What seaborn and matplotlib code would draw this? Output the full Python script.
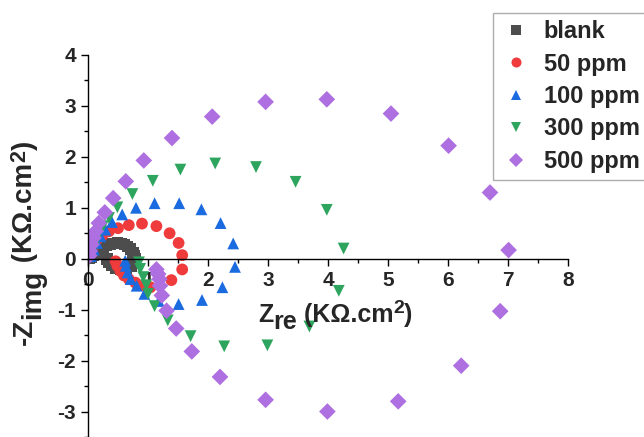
import pandas as pd
import matplotlib
matplotlib.use('Agg')
import matplotlib.pyplot as plt
import seaborn as sns

# Nyquist data, Zre / -Zimg in KOhm.cm2
blank_x = [0.02, 0.05, 0.08, 0.11, 0.14, 0.18, 0.22, 0.26, 0.31, 0.37, 0.43, 0.49, 0.55,
           0.61, 0.66, 0.71, 0.75, 0.77, 0.78,
           0.77, 0.72, 0.64, 0.55, 0.47, 0.40, 0.35, 0.32]
blank_y = [0.02, 0.04, 0.07, 0.10, 0.12, 0.15, 0.19, 0.23, 0.26, 0.29, 0.30, 0.31, 0.30,
           0.28, 0.24, 0.19, 0.12, 0.05, 0.00,
           -0.07, -0.14, -0.19, -0.20, -0.18, -0.13, -0.07, -0.01]

ppm50_x = [0.02, 0.05, 0.10, 0.15, 0.24, 0.35, 0.50, 0.68, 0.90, 1.14, 1.36, 1.51, 1.57,
           1.57, 1.39, 1.04, 0.93, 0.79, 0.68, 0.60, 0.54, 0.49, 0.46]
ppm50_y = [0.05, 0.15, 0.27, 0.38, 0.46, 0.54, 0.60, 0.66, 0.69, 0.64, 0.50, 0.31, 0.07,
           -0.21, -0.42, -0.56, -0.53, -0.47, -0.40, -0.33, -0.24, -0.14, -0.05]

ppm100_x = [0.05, 0.10, 0.15, 0.21, 0.29, 0.40, 0.57, 0.80, 1.11, 1.52, 1.89, 2.21, 2.42,
            2.45, 2.24, 1.90, 1.51, 1.18, 0.94, 0.81, 0.71, 0.66, 0.63, 0.62]
ppm100_y = [0.05, 0.18, 0.31, 0.44, 0.57, 0.72, 0.87, 1.00, 1.09, 1.09, 0.97, 0.70, 0.30,
            -0.16, -0.56, -0.81, -0.89, -0.83, -0.69, -0.53, -0.40, -0.27, -0.14, -0.04]

ppm300_x = [0.02, 0.05, 0.09, 0.13, 0.18, 0.25, 0.35, 0.49, 0.74, 1.08, 1.54, 2.12, 2.80,
            3.46, 3.98, 4.26,
            4.18, 3.69, 2.99, 2.27, 1.71, 1.33, 1.11, 1.00, 0.97, 0.92, 0.87, 0.85]
ppm300_y = [0.03, 0.10, 0.21, 0.34, 0.50, 0.64, 0.80, 1.01, 1.27, 1.53, 1.75, 1.87, 1.80,
            1.51, 0.96, 0.20,
            -0.63, -1.33, -1.70, -1.72, -1.52, -1.21, -0.93, -0.69, -0.52, -0.36, -0.20, -0.07]

ppm500_x = [0.02, 0.03, 0.06, 0.09, 0.13, 0.18, 0.28, 0.42, 0.63, 0.93, 1.40, 2.07, 2.96,
            3.98, 5.05, 6.01, 6.70, 7.01,
            6.87, 6.22, 5.17, 3.99, 2.96, 2.20, 1.73, 1.47, 1.31, 1.23, 1.20, 1.19, 1.17, 1.14]
ppm500_y = [0.06, 0.15, 0.28, 0.41, 0.54, 0.70, 0.91, 1.19, 1.52, 1.93, 2.37, 2.79, 3.08,
            3.13, 2.85, 2.22, 1.30, 0.17,
            -1.03, -2.10, -2.80, -3.00, -2.77, -2.32, -1.82, -1.37, -1.02, -0.72, -0.53, -0.40,
            -0.30, -0.21]

labels = ['blank', '50 ppm', '100 ppm', '300 ppm', '500 ppm']
series = [(blank_x, blank_y), (ppm50_x, ppm50_y), (ppm100_x, ppm100_y),
          (ppm300_x, ppm300_y), (ppm500_x, ppm500_y)]

frames = []
for lab, (xs, ys) in zip(labels, series):
    frames.append(pd.DataFrame({'zre': xs, 'zimg': ys, 'sample': lab}))
df = pd.concat(frames, ignore_index=True)

colors = ['#4d4d4d', '#ef3b3b', '#1a6ae0', '#2ea55e', '#ae6fe0']
markers = ['s', 'o', '^', 'v', 'D']

sns.set_style('ticks')
plt.rcParams['font.family'] = ['Liberation Sans', 'DejaVu Sans']
plt.rcParams['font.weight'] = 'bold'
plt.rcParams['axes.unicode_minus'] = False


def chain_label(fig, pieces, x, y, size, rotation=0, shift=5, sup_scale=0.78):
    # Origin style label: full size subscripts, smaller superscript.
    # pieces = [(text, kind)], kind in 'n', 'sub', 'sup'; x, y in figure pixels
    fx, fy = x / fig.bbox.width, y / fig.bbox.height
    if rotation == 0:
        base = fig.text(fx, fy, pieces[0][0], fontsize=size, fontweight='bold',
                        ha='left', va='baseline')
    else:
        base = fig.text(fx, fy, pieces[0][0], fontsize=size, fontweight='bold',
                        ha='left', va='bottom', rotation=90)
    prev = base
    for txt, kind in pieces[1:]:
        fs = size * sup_scale if kind == 'sup' else size
        if rotation == 0:
            if kind == 'sup':
                kw = dict(xycoords=(prev, base), xy=(1, 1), xytext=(0, 2), va='top')
            else:
                dy = -shift if kind == 'sub' else 0
                kw = dict(xycoords=(prev, base), xy=(1, 0), xytext=(0, dy), va='bottom')
            kw['ha'] = 'left'
        else:
            if kind == 'sup':
                dx = -2
            else:
                dx = shift if kind == 'sub' else 0
            kw = dict(xycoords=(base, prev), xy=(0, 1), xytext=(dx, 0),
                      ha='left', va='bottom', rotation=90)
        prev = fig.axes[0].annotate(txt, textcoords='offset points', fontsize=fs,
                                    fontweight='bold', annotation_clip=False, **kw)
    return base


fig = plt.figure(figsize=(6.44, 4.37), dpi=100)
ax = fig.add_axes([88 / 644, 0.0, 480 / 644, (437 - 55) / 437])

sns.scatterplot(data=df, x='zre', y='zimg', hue='sample', style='sample',
                palette=colors, markers=markers, hue_order=labels, style_order=labels,
                s=72, linewidth=0, ax=ax)

ax.set_xlim(0, 8)
ax.set_ylim(-3.43, 4)
ax.spines['top'].set_visible(False)
ax.spines['right'].set_visible(False)
ax.spines['bottom'].set_position(('data', 0))
for sp in ['left', 'bottom']:
    ax.spines[sp].set_color('black')
    ax.spines[sp].set_linewidth(1.0)

ax.set_xticks(range(0, 9))
ax.set_yticks(range(-3, 5))
ax.set_xticks([i + 0.5 for i in range(8)], minor=True)
ax.set_yticks([i + 0.5 for i in range(-4, 4)], minor=True)
ax.tick_params(which='major', length=5, width=1, labelsize=15, pad=3.5, color='black')
ax.tick_params(which='minor', length=3, width=1, color='black')
for t in ax.get_xticklabels() + ax.get_yticklabels():
    t.set_fontweight('bold')

ax.set_xlabel('')
ax.set_ylabel('')
chain_label(fig, [('Z', 'n'), ('re', 'sub'), (' (KΩ.cm', 'n'), ('2', 'sup'), (')', 'n')],
            258, 437 - 322, 18)
chain_label(fig, [('-Z', 'n'), ('img', 'sub'), (' (KΩ.cm', 'n'), ('2', 'sup'), (')', 'n')],
            12, 437 - 345, 20, rotation=90, shift=5.5)

leg = ax.legend(loc='upper left', bbox_to_anchor=(493 / 644, 1 - 13 / 437),
                bbox_transform=fig.transFigure, borderaxespad=0, frameon=True,
                fancybox=False, edgecolor='#999999', labelspacing=0.4,
                handlelength=1.35, handletextpad=0.5, borderpad=0.3, markerscale=0.85,
                prop={'weight': 'bold', 'size': 17})
leg.get_frame().set_linewidth(1.0)

plt.savefig('out.png', dpi=100)
plt.close()
